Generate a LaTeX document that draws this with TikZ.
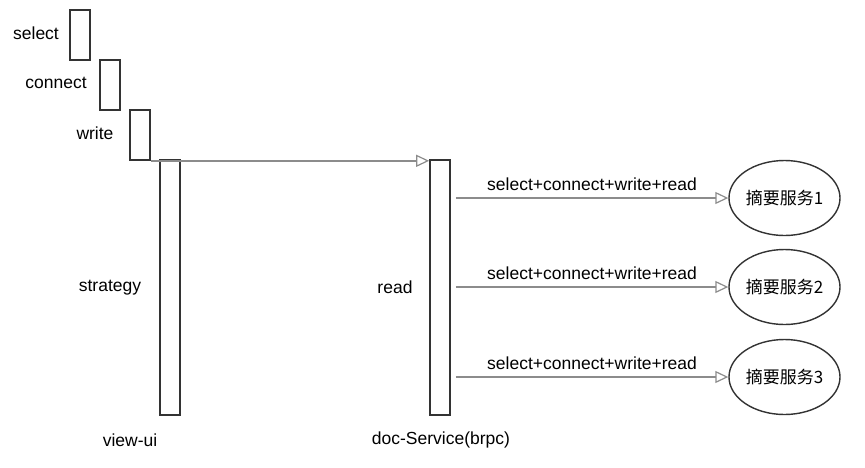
\documentclass[tikz,border=0pt]{standalone}
\usepackage{fontspec}
\setmainfont{Liberation Sans}
\newfontfamily\cjkfont{Noto Sans CJK SC}
\usepackage{tikz}
\usetikzlibrary{arrows.meta, shapes.geometric}
\definecolor{boxline}{HTML}{333333}
\definecolor{flowline}{HTML}{8C8C8C}

\tikzset{
    bar/.style={draw=boxline, line width=1.6pt, minimum width=20pt, inner sep=0pt},
    service/.style={ellipse, draw=boxline, line width=1.4pt, minimum width=111pt, minimum height=75pt, inner sep=0pt, font=\cjkfont\fontsize{17}{20}\selectfont},
    flow/.style={draw=flowline, line width=1.5pt, -{Triangle[open, length=13pt, width=12pt, line width=1.2pt]}},
    lbl/.style={font=\fontsize{17.5}{20}\selectfont, inner sep=0pt}
}

\begin{document}
\begin{tikzpicture}[x=1pt, y=-1pt]
    % Fix the page size
    \useasboundingbox (0,0) rectangle (865,467);

    % Draw the small steps
    \node[bar, minimum height=50pt] (Select) at (80,35) {};
    \node[bar, minimum height=50pt] (Connect) at (110,85) {};
    \node[bar, minimum height=50pt] (Write) at (140,135) {};

    % Draw the two long bars
    \node[bar, minimum height=255pt] (Strategy) at (170,287.5) {};
    \node[bar, minimum height=255pt] (Read) at (440,287.5) {};

    % Labels of the bars
    \node[lbl] at (36,33) {select};
    \node[lbl] at (56,83) {connect};
    \node[lbl] at (95,133) {write};
    \node[lbl] at (110,288) {strategy};
    \node[lbl] at (395,287) {read};
    \node[lbl] at (130,440) {view-ui};
    \node[lbl] at (441,440) {doc-Service(brpc)};

    % Call from view-ui to doc-Service
    \draw[flow] (Write.south east) -- (Write.south east -| Read.north west);

    % Draw the services and the calls to them
    \foreach \i/\y in {1/198, 2/287, 3/377} {
        \node[service] (S\i) at (784.5,\y) {摘要服务\i};
        \draw[flow] ([xshift=5pt]Read.east |- S\i.west) -- node[lbl, above=7pt] {select+connect+write+read} (S\i.west);
    }
\end{tikzpicture}
\end{document}
